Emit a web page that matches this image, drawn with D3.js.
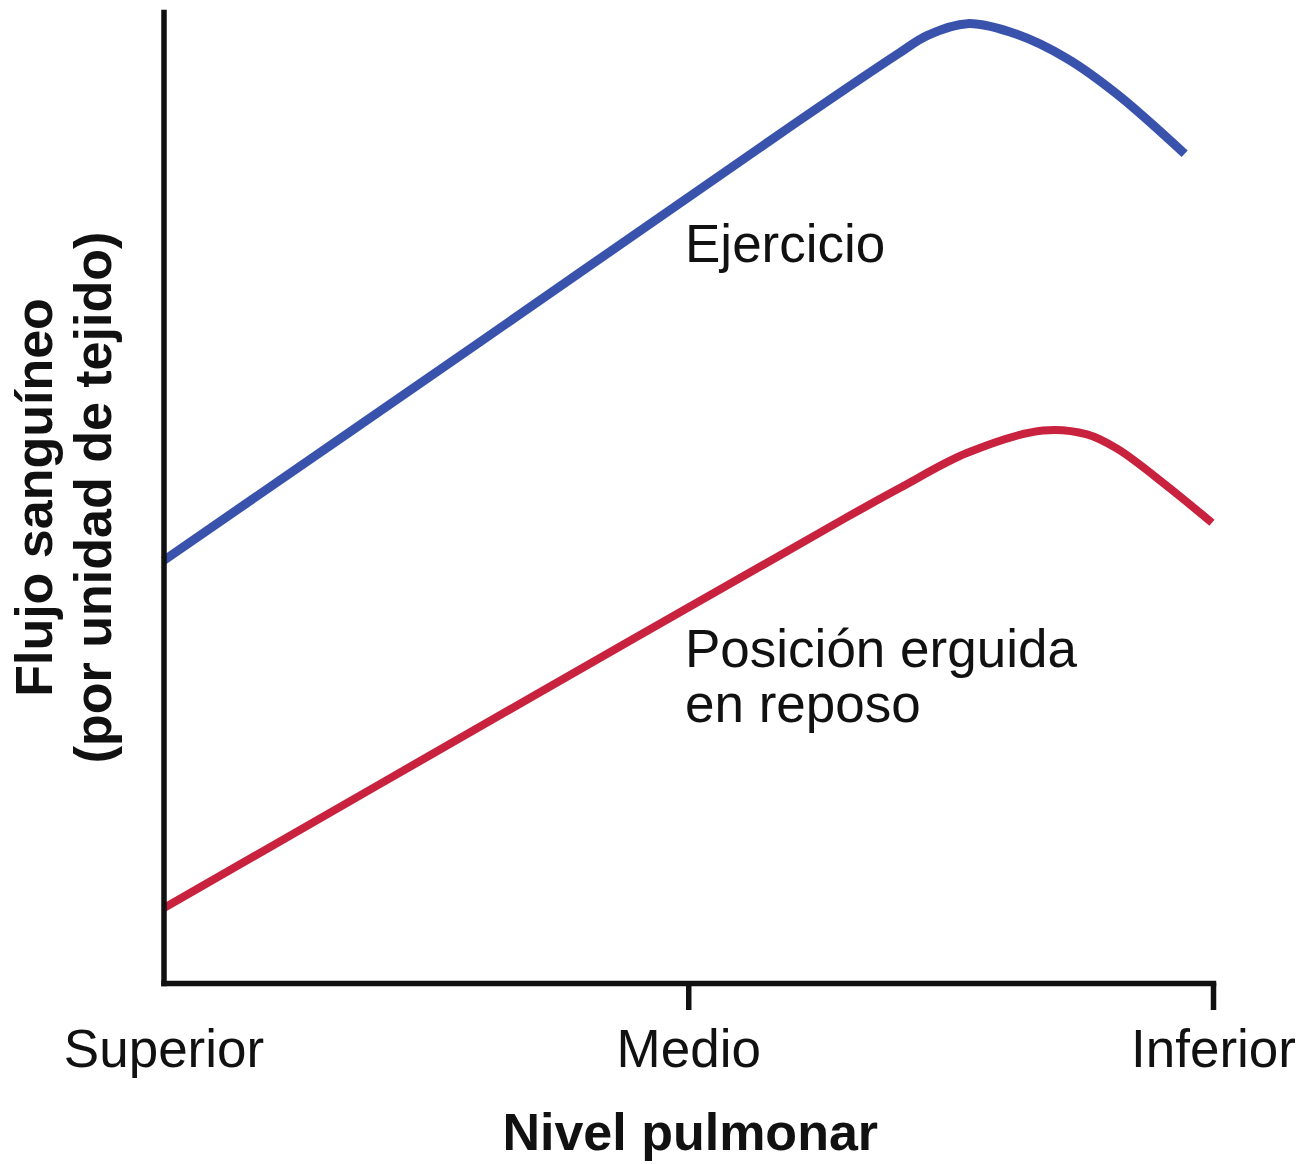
<!DOCTYPE html>
<html lang="es">
<head>
  <meta charset="UTF-8" />
  <title>Flujo sanguíneo por nivel pulmonar</title>
  <script src="https://d3js.org/d3.v7.min.js"></script>
  <style>
    body { margin: 0; background: #fff; }
    svg { display: block; }
    text { font-family: "Liberation Sans", Arial, sans-serif; fill: #111; }
    .axis path, .axis line { stroke: #111; stroke-width: 5.5; }
    .axis path { stroke-linecap: square; }
  </style>
</head>
<body>
<svg width="1315" height="1164"></svg>
<script>
  // nivel pulmonar: 0 = superior, 1 = inferior
  const nivelTicks = [0, 0.5, 1];
  const nivelLabels = ["Superior", "Medio", "Inferior"];

  // flujo relativo (0-100)
  const ejercicioX = [0, 0.3, 0.6, 0.7, 0.728, 0.766, 0.813, 0.861, 0.909, 0.973];
  const ejercicioY = [43.5, 65.9, 88.4, 95.7, 97.6, 98.8, 97.7, 95.2, 91.5, 85.4];

  const reposoX = [0, 0.35, 0.65, 0.702, 0.766, 0.838, 0.88, 0.909, 0.956, 0.999];
  const reposoY = [7.7, 29.4, 47.9, 51.0, 54.6, 56.9, 56.5, 55.0, 51.2, 47.4];

  const svg = d3.select("svg");

  const x = d3.scaleLinear().domain([0, 1]).range([163.5, 1213]);
  const y = d3.scaleLinear().domain([0, 100]).range([983, 12]);

  const line = d3.line()
    .x(d => x(d[0]))
    .y(d => y(d[1]))
    .curve(d3.curveCatmullRom.alpha(0.5));

  const series = [
    { name: "ejercicio", pts: d3.zip(ejercicioX, ejercicioY), color: "#3953ad", width: 9 },
    { name: "reposo", pts: d3.zip(reposoX, reposoY), color: "#c8223f", width: 8 }
  ];

  svg.append("g")
    .selectAll("path")
    .data(series)
    .join("path")
    .attr("fill", "none")
    .attr("stroke", d => d.color)
    .attr("stroke-width", d => d.width)
    .attr("d", d => line(d.pts));

  // ejes
  const xAxis = svg.append("g")
    .attr("class", "axis")
    .attr("transform", `translate(0,${y(0)})`)
    .call(d3.axisBottom(x)
      .tickValues(nivelTicks)
      .tickFormat((d, i) => nivelLabels[i])
      .tickSize(27)
      .tickSizeOuter(0));

  xAxis.selectAll(".tick line").filter(d => d === 0).remove();
  xAxis.selectAll(".tick text")
    .attr("font-size", 53)
    .attr("fill", null)
    .attr("dy", null)
    .attr("y", 84);

  svg.append("g")
    .attr("class", "axis")
    .attr("transform", `translate(${x(0)},0)`)
    .call(d3.axisLeft(y).tickValues([]).tickSizeOuter(0));

  svg.selectAll(".axis").attr("font-family", null).attr("font-size", null);

  // títulos de ejes
  svg.append("text")
    .attr("x", (x(0) + x(1)) / 2 + 2)
    .attr("y", 1150)
    .attr("text-anchor", "middle")
    .attr("font-size", 52)
    .attr("font-weight", "bold")
    .text("Nivel pulmonar");

  const yTitle = svg.append("text")
    .attr("transform", `translate(52,${(y(0) + y(100)) / 2}) rotate(-90)`)
    .attr("text-anchor", "middle")
    .attr("font-size", 52)
    .attr("font-weight", "bold");
  yTitle.append("tspan").attr("x", 0).attr("y", 0).text("Flujo sanguíneo");
  yTitle.append("tspan").attr("x", 0).attr("y", 59).text("(por unidad de tejido)");

  // etiquetas de series
  svg.append("text")
    .attr("x", 685)
    .attr("y", 262)
    .attr("font-size", 53)
    .text("Ejercicio");

  svg.append("text")
    .attr("x", 685)
    .attr("y", 667)
    .attr("font-size", 53)
    .text("Posición erguida");

  svg.append("text")
    .attr("x", 685)
    .attr("y", 722)
    .attr("font-size", 53)
    .text("en reposo");
</script>
</body>
</html>
